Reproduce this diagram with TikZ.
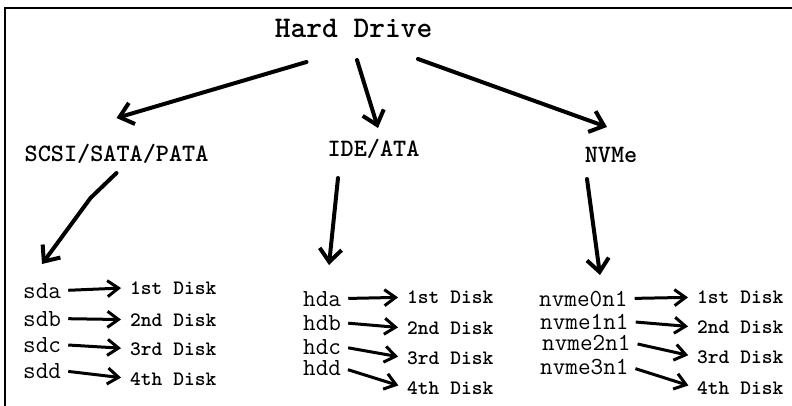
\documentclass[tikz,border=0pt]{standalone}
\usepackage{tikz}
\usetikzlibrary{arrows.meta,calc}
\tikzset{
  headlabel/.style={font=\ttfamily\bfseries\fontsize{30}{36}\selectfont, inner sep=0pt, anchor=base},
  buslabel/.style={font=\ttfamily\bfseries\fontsize{25}{30}\selectfont, inner sep=0pt, anchor=base},
  devname/.style={font=\ttfamily\fontsize{24.5}{29}\selectfont, inner sep=0pt, anchor=base west},
  disklabel/.style={font=\ttfamily\bfseries\fontsize{20.5}{25}\selectfont, inner sep=0pt, anchor=base west},
  treearrow/.style={-{Straight Barb[length=13pt,width=22pt]}, line width=4pt, line cap=round},
  diskarrow/.style={-{Straight Barb[length=11pt,width=16pt]}, line width=3pt,
    shorten <=7pt, shorten >=9pt},
  frameline/.style={line width=2.5pt}
}

\begin{document}
\begin{tikzpicture}[x=1pt, y=-1pt]
    \useasboundingbox (0,0) rectangle (792,406);
    \draw[frameline] (5,406) -- (5,8) -- (792,8);

    % top and bus types
    \node[headlabel] (hd) at (353.5,38) {Hard Drive};
    \node[buslabel] (scsi) at (116.5,162) {SCSI/SATA/PATA};
    \node[buslabel] (ide) at (373.5,157) {IDE/ATA};
    \node[buslabel] (nvme) at (611,163) {NVMe};

    % SCSI/SATA/PATA devices
    \node[devname] (sda) at (23,298) {sda};
    \node[devname] (sdb) at (23,326) {sdb};
    \node[devname] (sdc) at (23,352) {sdc};
    \node[devname] (sdd) at (23,378) {sdd};
    \node[disklabel] (sda-disk) at (130,294) {1st Disk};
    \node[disklabel] (sdb-disk) at (130,326) {2nd Disk};
    \node[disklabel] (sdc-disk) at (130,355) {3rd Disk};
    \node[disklabel] (sdd-disk) at (130,385) {4th Disk};

    % IDE/ATA devices
    \node[devname] (hda) at (303,306) {hda};
    \node[devname] (hdb) at (303,330) {hdb};
    \node[devname] (hdc) at (303,354) {hdc};
    \node[devname] (hdd) at (303,375) {hdd};
    \node[disklabel] (hda-disk) at (407,303.5) {1st Disk};
    \node[disklabel] (hdb-disk) at (407,334.5) {2nd Disk};
    \node[disklabel] (hdc-disk) at (407,364.5) {3rd Disk};
    \node[disklabel] (hdd-disk) at (407,394.5) {4th Disk};

    % NVMe devices
    \node[devname] (nvme0) at (539,306) {nvme0n1};
    \node[devname] (nvme1) at (540,329) {nvme1n1};
    \node[devname] (nvme2) at (542,350) {nvme2n1};
    \node[devname] (nvme3) at (540,374) {nvme3n1};
    \node[disklabel] (nvme0-disk) at (697,303.5) {1st Disk};
    \node[disklabel] (nvme1-disk) at (697,333.5) {2nd Disk};
    \node[disklabel] (nvme2-disk) at (697,363.5) {3rd Disk};
    \node[disklabel] (nvme3-disk) at (697,394.5) {4th Disk};

    \draw[treearrow] ($(hd.base)+(-47,24)$) -- ($(scsi.base)+(0,-44)$);
    \draw[treearrow] ($(hd.base)+(3.5,22)$) -- ($(ide.base)+(4.5,-29)$);
    \draw[treearrow] ($(hd.base)+(64.5,21)$) -- ($(nvme.base)+(-4,-36)$);
    \draw[treearrow] ($(scsi.base)+(0,11)$) -- ++(-26,25) -- ($(sda.base west)+(19,-34)$);
    \draw[treearrow] ($(ide.base)+(-35.5,21)$) -- ($(hda.base west)+(26,-41)$);
    \draw[treearrow] ($(nvme.base)+(-24,16)$) -- ($(nvme0.base west)+(61,-31)$);

    \foreach \dev in {sda,sdb,sdc,sdd,hda,hdb,hdc,hdd,nvme0,nvme1,nvme2,nvme3}
        \draw[diskarrow] (\dev.east) -- (\dev-disk.west);
\end{tikzpicture}
\end{document}
